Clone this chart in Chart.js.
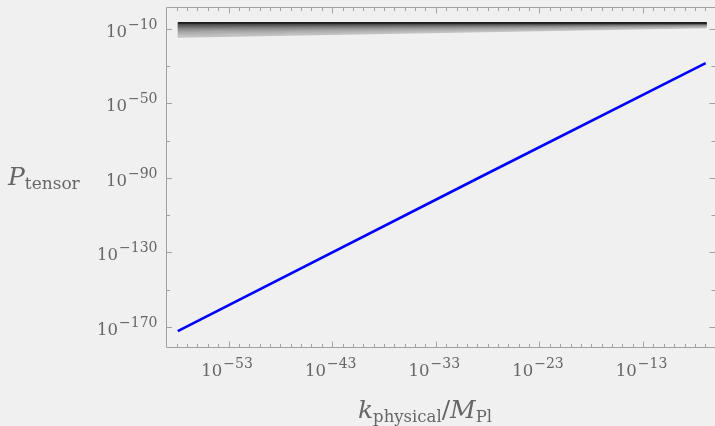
<!DOCTYPE html>
<html>
<head>
<meta charset="utf-8">
<script src="https://cdn.jsdelivr.net/npm/chart.js@4.4.0/dist/chart.umd.min.js"></script>
<style>
  html, body { margin: 0; padding: 0; background: #f0f0f0; }
  #wrap { width: 715px; height: 426px; }
</style>
</head>
<body>
<div id="wrap"><canvas id="chart" width="715" height="426"></canvas></div>
<script>
// All values are log10 of the plotted quantities

// Blue line: P_tensor against k_physical/M_Pl
const kLine = [-57.9, -28.7, -6.96];
const pLine = [-172.2, -89.5, -28.4];

// Grey band near 10^-10: one curve per entry, from top (dark) to bottom (light)
const kBand = [-57.9, -6.86];
const bandStart = [-6.8, -7.3, -7.8, -8.3, -8.8, -9.3, -9.8, -10.3, -10.8, -11.4, -12.0, -12.6, -13.2, -13.8, -14.4];
const bandEnd = [-6.8, -6.95, -7.1, -7.25, -7.4, -7.55, -7.7, -7.85, -8.0, -8.2, -8.4, -8.6, -8.8, -9.0, -9.2];
const bandColors = ['#1c1c1c', '#444444', '#555555', '#636363', '#707070', '#7c7c7c', '#878787', '#919191',
  '#9b9b9b', '#a4a4a4', '#acacac', '#b3b3b3', '#b9b9b9', '#bfbfbf', '#c4c4c4'];

// Axis ranges and ticks (exponents)
const xRange = [-58.94, -6.06];
const yRange = [-181.3, 1.73];
const xMajor = [-53, -43, -33, -23, -13];
const yMajor = [-10, -50, -90, -130, -170];
const yMinor = [-30, -70, -110, -150];

const FONT = '"DejaVu Serif", serif';
const TEXT = '#666666';
const FRAME = '#a2a2a2';

// every decade gets a small tick on the x frame
const xMinor = [];
for (let e = Math.ceil(xRange[0]); e <= Math.floor(xRange[1]); e++) {
  if (!xMajor.includes(e)) xMinor.push(e);
}

function pairs(xs, ys) {
  return xs.map((v, i) => ({ x: v, y: ys[i] }));
}

const datasets = [{
  data: pairs(kLine, pLine),
  borderColor: '#0000ff',
  borderWidth: 2.6,
  pointRadius: 0
}];
bandStart.forEach((s, i) => {
  datasets.push({
    data: pairs(kBand, [s, bandEnd[i]]),
    borderColor: bandColors[i],
    borderWidth: 1.6,
    pointRadius: 0
  });
});

/**
 * Draw "10" with a superscript exponent.
 * align: 'right' puts the label's right edge at x, 'center' centres it on x
 */
function drawPower(ctx, exp, x, baseline, align) {
  const base = '10';
  const sup = '\u2212' + Math.abs(exp);
  ctx.font = '16.5px ' + FONT;
  const wb = ctx.measureText(base).width;
  ctx.font = '14px ' + FONT;
  const ws = ctx.measureText(sup).width;
  const total = wb + 1 + ws;
  const left = align === 'right' ? x - total : x - total / 2;
  ctx.textAlign = 'left';
  ctx.textBaseline = 'alphabetic';
  ctx.font = '16.5px ' + FONT;
  ctx.fillText(base, left, baseline);
  ctx.font = '14px ' + FONT;
  ctx.fillText(sup, left + wb + 1, baseline - 8);
}

/**
 * Draw a list of text runs; subscripts are drawn smaller and lower
 */
function drawRuns(ctx, runs, x, baseline, centre) {
  const fontOf = r => (r.italic ? 'italic ' : '') + r.size + 'px ' + FONT;
  let total = 0;
  runs.forEach(r => { ctx.font = fontOf(r); r.w = ctx.measureText(r.text).width; total += r.w; });
  let cx = centre ? x - total / 2 : x;
  ctx.textAlign = 'left';
  ctx.textBaseline = 'alphabetic';
  runs.forEach(r => {
    ctx.font = fontOf(r);
    ctx.fillText(r.text, cx, baseline + (r.drop || 0));
    cx += r.w;
  });
}

const framePlugin = {
  id: 'frame',
  beforeDraw(chart) {
    const ctx = chart.ctx;
    ctx.save();
    ctx.fillStyle = '#f0f0f0';
    ctx.fillRect(0, 0, chart.width, chart.height);
    ctx.restore();
  },
  afterDraw(chart) {
    const { ctx, chartArea: a, scales: { x, y } } = chart;
    const L = a.left - 0.5, R = a.right + 0.5, T = a.top + 0.5, B = a.bottom - 0.5;
    ctx.save();
    ctx.strokeStyle = FRAME;
    ctx.lineWidth = 1;
    // frame (right side sits just outside the picture)
    ctx.beginPath();
    ctx.moveTo(R, T); ctx.lineTo(L, T); ctx.lineTo(L, B); ctx.lineTo(R, B);
    ctx.stroke();

    // ticks on all four sides, pointing inwards
    ctx.beginPath();
    const xTick = (v, len) => {
      const px = Math.round(x.getPixelForValue(v)) + 0.5;
      ctx.moveTo(px, B); ctx.lineTo(px, B - len);
      ctx.moveTo(px, T); ctx.lineTo(px, T + len);
    };
    const yTick = (v, len) => {
      const py = Math.round(y.getPixelForValue(v)) + 0.5;
      ctx.moveTo(L, py); ctx.lineTo(L + len, py);
      ctx.moveTo(a.right, py); ctx.lineTo(a.right - len, py);
    };
    xMajor.forEach(v => xTick(v, 6));
    xMinor.forEach(v => xTick(v, 3.5));
    yMajor.forEach(v => yTick(v, 5.5));
    yMinor.forEach(v => yTick(v, 3.5));
    ctx.stroke();

    // tick labels
    ctx.fillStyle = TEXT;
    yMajor.forEach(v => drawPower(ctx, v, a.left - 9.5, y.getPixelForValue(v) + 8, 'right'));
    xMajor.forEach(v => drawPower(ctx, v, x.getPixelForValue(v) - 1.5, 376, 'center'));

    // axis titles
    drawRuns(ctx, [
      { text: 'P', size: 25, italic: true },
      { text: 'tensor', size: 17, drop: 4 }
    ], 8, 185, false);
    drawRuns(ctx, [
      { text: 'k', size: 25, italic: true },
      { text: 'physical', size: 16.5, drop: 4 },
      { text: '/', size: 25 },
      { text: 'M', size: 25, italic: true },
      { text: 'Pl', size: 16.5, drop: 4 }
    ], 425, 418, true);
    ctx.restore();
  }
};

new Chart(document.getElementById('chart'), {
  type: 'line',
  data: { datasets: datasets },
  options: {
    responsive: false,
    animation: false,
    devicePixelRatio: 1,
    layout: { padding: { top: 7, right: 0, bottom: 0, left: 0 } },
    plugins: { legend: { display: false }, tooltip: { enabled: false } },
    elements: { line: { tension: 0, borderCapStyle: 'butt' } },
    scales: {
      x: {
        type: 'linear',
        min: xRange[0],
        max: xRange[1],
        grid: { display: false },
        border: { display: false },
        ticks: { display: false },
        afterFit(scale) { scale.height = 78; }
      },
      y: {
        type: 'linear',
        min: yRange[0],
        max: yRange[1],
        grid: { display: false },
        border: { display: false },
        ticks: { display: false },
        afterFit(scale) { scale.width = 167; }
      }
    }
  },
  plugins: [framePlugin]
});
</script>
</body>
</html>
